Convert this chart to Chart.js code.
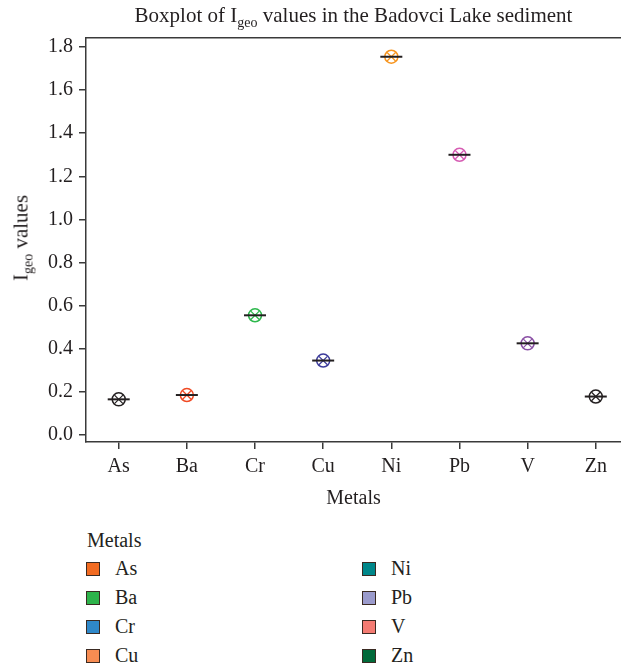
<!DOCTYPE html>
<html>
<head>
<meta charset="utf-8">
<script src="https://cdn.jsdelivr.net/npm/chart.js@4/dist/chart.umd.min.js"></script>
<style>
  body { margin: 0; background: #fff; }
  #wrap { position: relative; width: 621px; height: 665px; font-family: "Liberation Serif", "DejaVu Serif", serif; color: #231f20; }
  #myChart { position: absolute; left: 0; top: 0; }
  #title { position: absolute; top: 3px; left: 86px; width: 535px; text-align: center; font-size: 21px; }
  #ytitle { position: absolute; left: 21px; top: 238px; transform: translate(-50%, -50%) rotate(-90deg); font-size: 21px; white-space: nowrap; }
  sub { font-size: 14px; vertical-align: -5px; line-height: 0; }
  #legend { position: absolute; left: 86px; top: 529px; font-size: 20px; }
  #legend .head { position: absolute; left: 1px; top: 0; }
  .item { position: absolute; height: 20px; line-height: 20px; white-space: nowrap; }
  .item span.box { position: absolute; left: 0; top: 3px; width: 12px; height: 12px; border: 1.5px solid #3a2a22; }
  .item span.lab { position: absolute; left: 29px; top: -1px; }
</style>
</head>
<body>
<div id="wrap">
  <canvas id="myChart" width="621" height="515"></canvas>
  <div id="title">Boxplot of I<sub>geo</sub> values in the Badovci Lake sediment</div>
  <div id="ytitle">I<sub>geo</sub> values</div>
  <div id="legend"><div class="head">Metals</div></div>
</div>
<script>
// metals on the x axis and their Igeo values
let metals = ['As', 'Ba', 'Cr', 'Cu', 'Ni', 'Pb', 'V', 'Zn'];
let igeo = [0.165, 0.185, 0.555, 0.345, 1.755, 1.30, 0.425, 0.178];
let yTicks = [0.0, 0.2, 0.4, 0.6, 0.8, 1.0, 1.2, 1.4, 1.6, 1.8];

let markerColors = ['#231f20', '#f04a24', '#2db84c', '#3b3a9a', '#f7941d', '#d65cb3', '#8a4fa5', '#231f20'];

// legend entries as they appear under the chart
let legendNames = ['As', 'Ba', 'Cr', 'Cu', 'Ni', 'Pb', 'V', 'Zn'];
let legendColors = ['#f26b21', '#2eb34b', '#2f88c9', '#f78c52', '#00878a', '#9b9bcc', '#f47b72', '#016a3a'];

// build the html legend (two columns of four)
var legend = document.getElementById('legend');
legendNames.forEach((name, i) => {
  var col = Math.floor(i / 4), row = i % 4;
  var d = document.createElement('div');
  d.className = 'item';
  d.style.left = (col * 276) + 'px';
  d.style.top = (30 + row * 29) + 'px';
  d.innerHTML = '<span class="box" style="background:' + legendColors[i] + '"></span><span class="lab">' + name + '</span>';
  legend.appendChild(d);
});

var points = metals.map((m, i) => ({x: i, y: igeo[i]}));
var font = {family: '"Liberation Serif", "DejaVu Serif", serif', size: 20};
var axisColor = '#3a3a3a';

const config = {
  type: 'scatter',
  data: {
    datasets: [
      {
        data: points,
        pointStyle: 'circle',
        radius: 6.5,
        backgroundColor: 'rgba(0,0,0,0)',
        borderColor: markerColors,
        borderWidth: 1.5,
        order: 2
      },
      {
        data: points,
        pointStyle: 'crossRot',
        radius: 6,
        borderColor: markerColors,
        borderWidth: 1.2,
        order: 2
      },
      {
        data: points,
        pointStyle: 'line',
        radius: 11,
        borderColor: '#231f20',
        borderWidth: 2,
        order: 1
      }
    ]
  },
  options: {
    responsive: false,
    devicePixelRatio: 1,
    animation: false,
    layout: {autoPadding: false, padding: {top: 38, left: 0, right: 0, bottom: 0}},
    plugins: {legend: {display: false}, tooltip: {enabled: false}},
    scales: {
      x: {
        type: 'linear',
        min: -0.48,
        max: 7.37,
        afterBuildTicks: s => { s.ticks = metals.map((m, i) => ({value: i})); },
        afterFit: s => { s.height = 73; s.paddingLeft = 0; s.paddingRight = 0; },
        ticks: {
          callback: v => metals[v],
          color: '#231f20',
          font: font,
          padding: 6,
          maxRotation: 0
        },
        grid: {display: true, drawOnChartArea: false, drawTicks: true, tickLength: 7, color: axisColor, lineWidth: 1.5},
        border: {display: true, color: axisColor, width: 1.5},
        title: {display: true, text: 'Metals', color: '#231f20', font: font, padding: {top: 4, bottom: 4}}
      },
      xTop: {
        type: 'linear',
        position: 'top',
        min: -0.48,
        max: 7.37,
        afterFit: s => { s.height = 0; s.paddingLeft = 0; s.paddingRight = 0; },
        ticks: {display: false},
        grid: {display: false},
        border: {display: true, color: axisColor, width: 1.5}
      },
      y: {
        min: -0.033,
        max: 1.842,
        afterBuildTicks: s => { s.ticks = yTicks.map(v => ({value: v})); },
        afterFit: s => { s.width = 86; s.paddingTop = 0; s.paddingBottom = 0; },
        ticks: {
          callback: v => v.toFixed(1),
          color: '#231f20',
          font: font,
          padding: 6
        },
        grid: {display: true, drawOnChartArea: false, drawTicks: true, tickLength: 7, color: axisColor, lineWidth: 1.5},
        border: {display: true, color: axisColor, width: 1.5}
      }
    }
  }
};

var ctx = document.getElementById('myChart');
var mychart = new Chart(ctx, config);
</script>
</body>
</html>
